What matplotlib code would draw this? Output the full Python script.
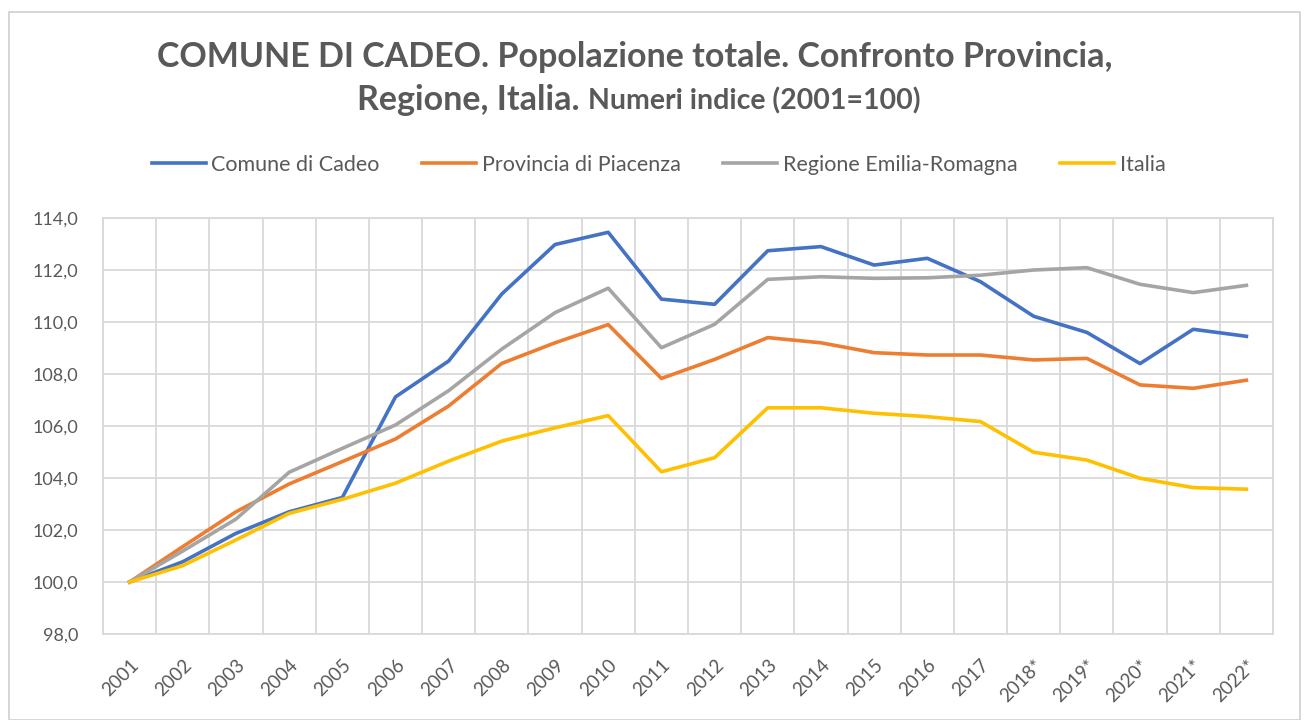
import matplotlib
matplotlib.use("Agg")
import matplotlib.pyplot as plt
from matplotlib.patches import Rectangle
from matplotlib.transforms import ScaledTranslation

years = ["2001", "2002", "2003", "2004", "2005", "2006", "2007", "2008", "2009", "2010",
         "2011", "2012", "2013", "2014", "2015", "2016", "2017", "2018*", "2019*",
         "2020*", "2021*", "2022*"]
comune = [100.0, 100.78, 101.87, 102.7, 103.25, 107.12, 108.5, 111.08, 112.98, 113.45,
          110.88, 110.68, 112.74, 112.9, 112.19, 112.45, 111.55, 110.22, 109.6, 108.4,
          109.72, 109.45]
provincia = [100.0, 101.36, 102.7, 103.77, 104.63, 105.5, 106.77, 108.41, 109.2, 109.9,
             107.83, 108.56, 109.4, 109.2, 108.82, 108.73, 108.73, 108.54, 108.6, 107.58,
             107.45, 107.76]
regione = [100.0, 101.19, 102.42, 104.22, 105.14, 106.04, 107.36, 108.96, 110.36, 111.3,
           109.01, 109.91, 111.64, 111.74, 111.68, 111.7, 111.8, 112.0, 112.09, 111.45,
           111.13, 111.41]
italia = [100.0, 100.63, 101.62, 102.64, 103.18, 103.8, 104.65, 105.42, 105.93, 106.4,
          104.24, 104.78, 106.7, 106.7, 106.49, 106.36, 106.17, 104.99, 104.69, 103.99,
          103.63, 103.57]
series_names = ["Comune di Cadeo", "Provincia di Piacenza", "Regione Emilia-Romagna", "Italia"]
colors = ["#4472C4", "#ED7D31", "#A5A5A5", "#FFC000"]
yticks = [98, 100, 102, 104, 106, 108, 110, 112, 114]

plt.rcParams['font.family'] = ['Lato', 'DejaVu Sans']
txt = "#595959"
grid = "#D9D9D9"

fig = plt.figure(figsize=(13.04, 7.2), dpi=100)
fig.patches.append(Rectangle((9/1304, 0.0), 1 - 13/1304, 1 - 12/720, transform=fig.transFigure,
                             fill=False, edgecolor="#D0D0D0", linewidth=1.2))

ax = fig.add_axes([103/1304, 1-634/720, 1170/1304, 416/720])
x = list(range(len(years)))
for vals, name, c in zip([comune, provincia, regione, italia], series_names, colors):
    ax.plot(x, vals, color=c, linewidth=2.6, label=name, solid_joinstyle='round')

ax.set_xlim(-0.5, len(years) - 0.5)
ax.set_ylim(98, 114)
ax.set_yticks(yticks)
ax.set_yticklabels([f"{v:.1f}".replace('.', ',') for v in yticks], fontsize=13, color=txt)
ax.set_xticks(x)
ax.set_xticklabels(years, rotation=45, ha='right', va='top', rotation_mode='anchor',
                   fontsize=13.5, color=txt)
off = ScaledTranslation(-4/100, 0, fig.dpi_scale_trans)
for lab in ax.get_xticklabels():
    lab.set_transform(lab.get_transform() + off)
ax.set_xticks([i - 0.5 for i in range(len(years) + 1)], minor=True)
ax.grid(which='minor', axis='x', color=grid, linewidth=1.3)
ax.grid(which='major', axis='y', color=grid, linewidth=1.3)
ax.tick_params(which='both', length=0)
ax.tick_params(axis='y', pad=18)
ax.tick_params(axis='x', pad=16)
for s in ax.spines.values():
    s.set_color(grid)
    s.set_linewidth(1.3)
ax.set_axisbelow(True)

fig.legend(loc='center', bbox_to_anchor=(0.505, 1 - 165/720), ncol=4, frameon=False,
           fontsize=15.5, labelcolor=txt, handlelength=2.5, columnspacing=2.0,
           handletextpad=0.25)

fig.text(0.487, 1 - 57/720, "COMUNE DI CADEO. Popolazione totale. Confronto Provincia,",
         ha='center', va='center', fontsize=24.5, fontweight='bold', color=txt)
fig.canvas.draw()
r = fig.canvas.get_renderer()
t1 = fig.text(0, 1 - 100/720, "Regione, Italia. ", ha='left', va='center', fontsize=24.5,
              fontweight='bold', color=txt)
t2 = fig.text(0, 1 - 100/720, "Numeri indice (2001=100)", ha='left', va='center',
              fontsize=20.5, fontweight='bold', color=txt)
w1 = t1.get_window_extent(r).width
w2 = t2.get_window_extent(r).width
W = fig.bbox.width
start = 0.49 * W - (w1 + w2) / 2
t1.set_x(start / W)
t2.set_x((start + w1) / W)
t2.set_y(1 - 101/720)

fig.savefig("out.png", dpi=100)
